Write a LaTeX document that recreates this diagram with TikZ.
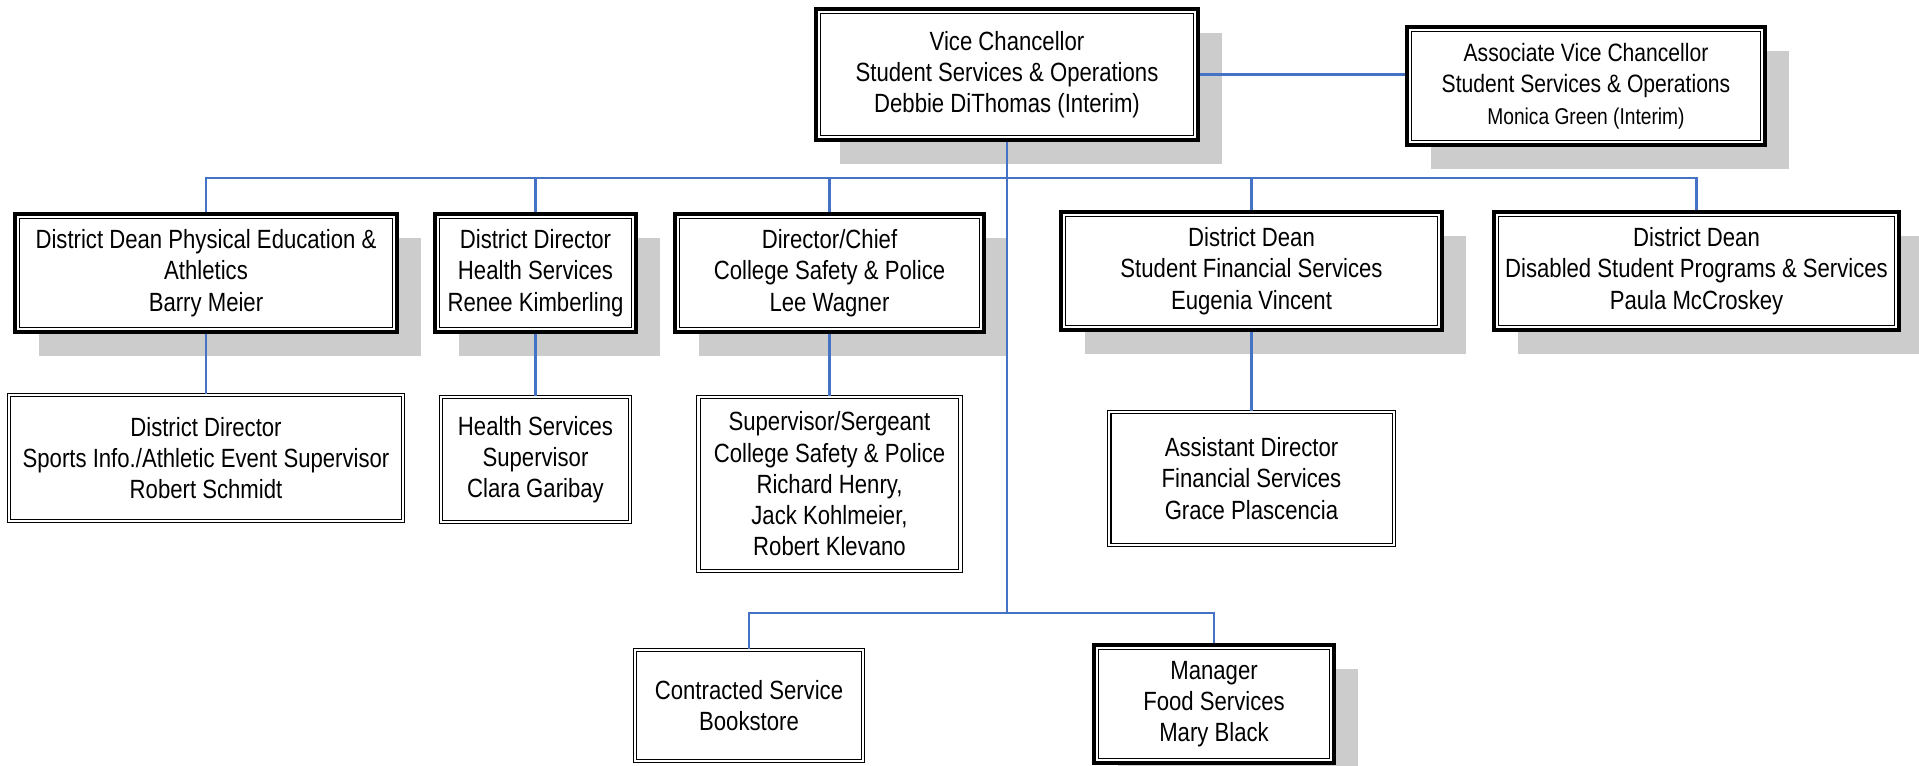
\documentclass[tikz,border=0pt]{standalone}
\usepackage{fontspec}
\setmainfont{Liberation Sans}[FakeStretch=0.84]
\usetikzlibrary{shadows}
\definecolor{linkblue}{RGB}{68,114,196}
\definecolor{shadegray}{RGB}{204,204,204}
\begin{document}
\begin{tikzpicture}[x=0.02cm, y=-0.02cm,
  every node/.style={align=center, inner sep=0pt, font=\fontsize{15}{17.8}\selectfont},
  headbox/.style={draw, fill=white, line width=2.3pt,
    drop shadow={shadow xshift=0.48cm, shadow yshift=-0.48cm, fill=shadegray, opacity=1},
    path picture={\draw[line width=0.85pt] ([shift={(2.5pt,2.5pt)}]path picture bounding box.south west) rectangle ([shift={(-2.5pt,-2.5pt)}]path picture bounding box.north east);}},
  staffbox/.style={draw, fill=white, line width=0.8pt, double=white, double distance=1.2pt},
  link/.style={draw=linkblue, line width=1.3pt}]
  \useasboundingbox[fill=white] (0,0) rectangle (1919,766);

  \node[headbox, minimum width=7.64cm, minimum height=2.62cm] (vc) at (1007,74.5) {Vice Chancellor\\Student Services \& Operations\\Debbie DiThomas (Interim)};
  \node[headbox, minimum width=7.16cm, minimum height=2.36cm, font=\fontsize{14.3}{17.8}\selectfont] (avc) at (1586,86) {Associate Vice Chancellor\\Student Services \& Operations\\{\fontsize{13}{17.8}\selectfont Monica Green (Interim)}};

  \node[headbox, minimum width=7.64cm, minimum height=2.36cm] (pe) at (206,273) {District Dean Physical Education \&\\Athletics\\Barry Meier};
  \node[headbox, minimum width=4.02cm, minimum height=2.36cm] (hsdir) at (535.5,273) {District Director\\Health Services\\Renee Kimberling};
  \node[headbox, minimum width=6.18cm, minimum height=2.36cm] (police) at (829.5,273) {Director/Chief\\College Safety \& Police\\Lee Wagner};
  \node[headbox, minimum width=7.62cm, minimum height=2.36cm] (sfs) at (1251.5,271) {District Dean\\Student Financial Services\\Eugenia Vincent};
  \node[headbox, minimum width=8.10cm, minimum height=2.36cm] (dsps) at (1696.5,271) {District Dean\\Disabled Student Programs \& Services\\Paula McCroskey};

  \node[staffbox, minimum width=7.88cm, minimum height=2.52cm] (sports) at (206,458) {District Director\\Sports Info./Athletic Event Supervisor\\Robert Schmidt};
  \node[staffbox, minimum width=3.78cm, minimum height=2.5cm] (hssup) at (535.5,459.5) {Health Services\\Supervisor\\Clara Garibay};
  \node[staffbox, minimum width=5.24cm, minimum height=3.48cm] (sgt) at (829.5,484) {Supervisor/Sergeant\\College Safety \& Police\\Richard Henry,\\Jack Kohlmeier,\\Robert Klevano};
  \node[staffbox, minimum width=5.7cm, minimum height=2.66cm] (asst) at (1251.5,478.5) {Assistant Director\\Financial Services\\Grace Plascencia};

  \node[staffbox, minimum width=4.56cm, minimum height=2.22cm] (book) at (749,705.5) {Contracted Service\\Bookstore};
  \node[headbox, minimum width=4.8cm, minimum height=2.36cm] (food) at (1214,704) {Manager\\Food Services\\Mary Black};

  \coordinate (hub) at (vc.south |- 0,178);
  \draw[link] (vc.south) -- (vc.south |- 0,613) coordinate (lowhub);
  \draw[link] (vc.east) -- (vc.east -| avc.west);
  \foreach \n in {pe,hsdir,police,sfs,dsps}
    \draw[link] (hub) -| (\n.north);
  \foreach \a/\b in {pe/sports,hsdir/hssup,police/sgt,sfs/asst}
    \draw[link] (\a.south) -- (\b.north);
  \foreach \n in {book,food}
    \draw[link] (lowhub) -| (\n.north);
\end{tikzpicture}
\end{document}
